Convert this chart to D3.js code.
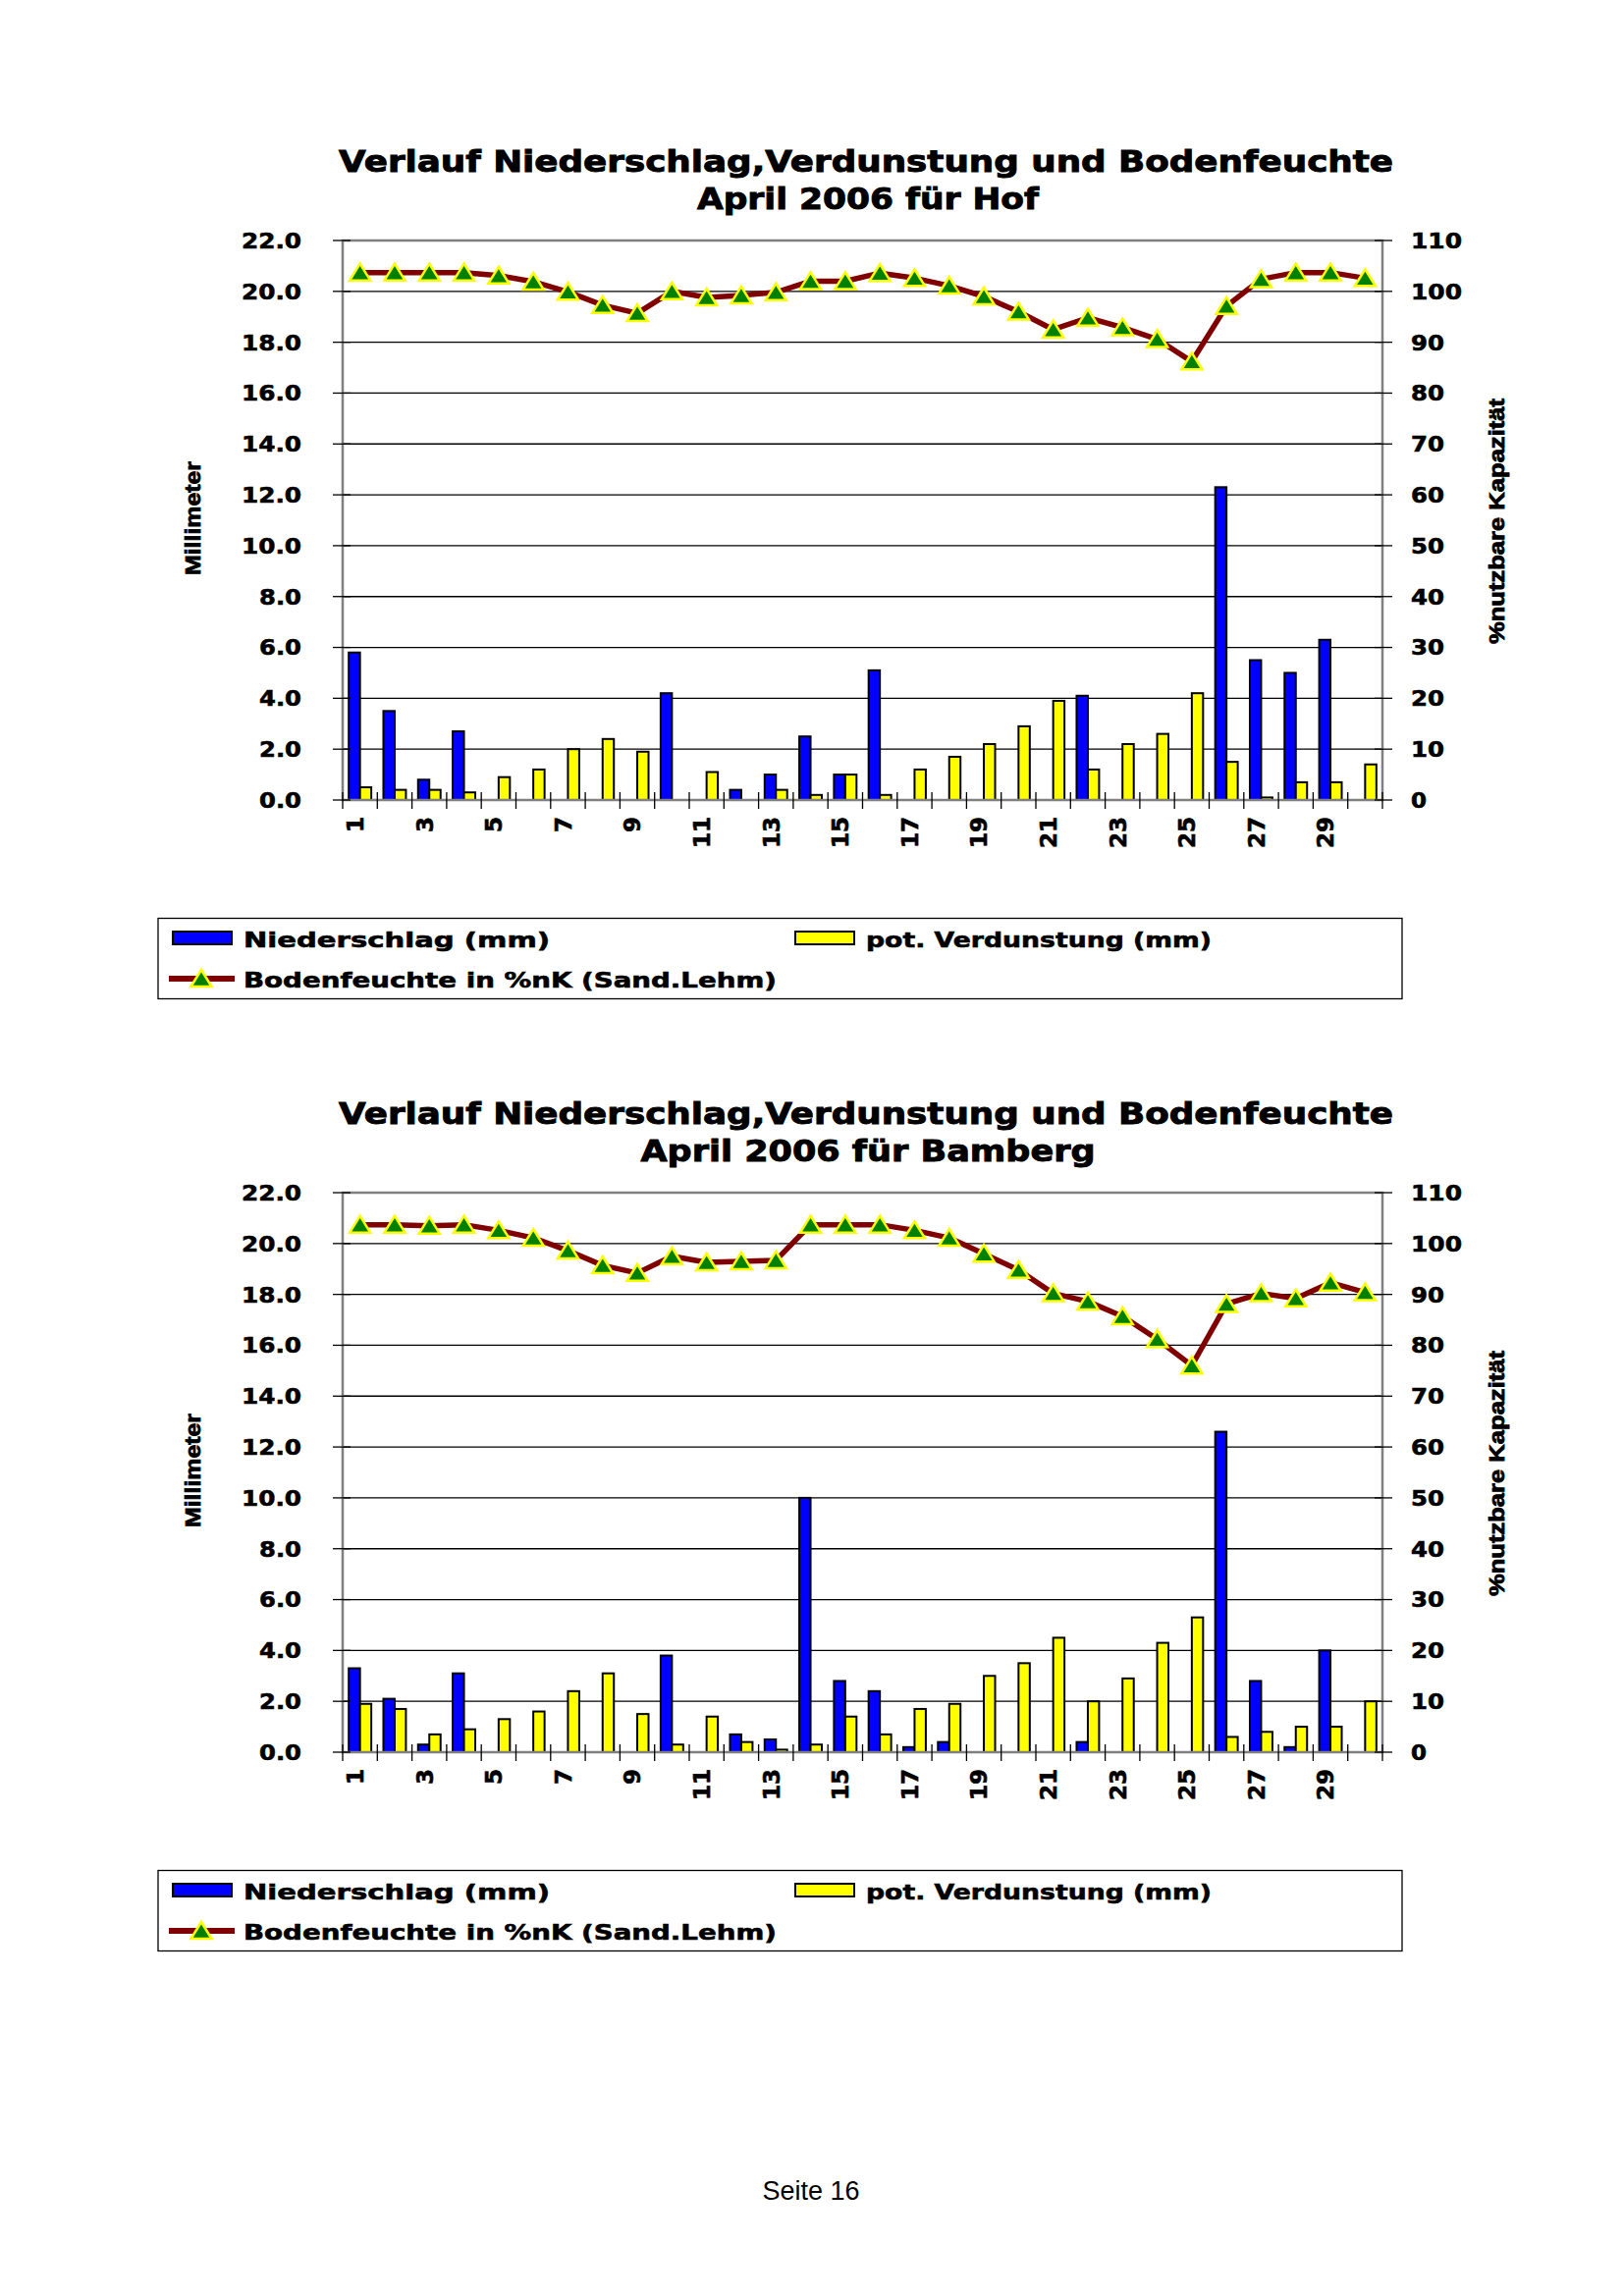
<!DOCTYPE html>
<html><head><meta charset="utf-8">
<script src="https://cdn.jsdelivr.net/npm/d3@7"></script>
<style>body{margin:0;background:#fff} svg{display:block}</style>
</head><body>
<script>
// ---------- DATA ----------
const days = d3.range(1, 31);
const xTickLabels = days.filter(d => d % 2 === 1);
const leftTicks = [0, 2, 4, 6, 8, 10, 12, 14, 16, 18, 20, 22];
const rightTicks = [0, 10, 20, 30, 40, 50, 60, 70, 80, 90, 100, 110];

const seriesNames = ["Niederschlag (mm)", "pot. Verdunstung (mm)", "Bodenfeuchte in %nK (Sand.Lehm)"];

const hofNiederschlag = [5.8,3.5,0.8,2.7,0,0,0,0,0,4.2,0,0.4,1.0,2.5,1.0,5.1,0,0,0,0,0,4.1,0,0,0,12.3,5.5,5.0,6.3,0];
const hofVerdunstung  = [0.5,0.4,0.4,0.3,0.9,1.2,2.0,2.4,1.9,0,1.1,0,0.4,0.2,1.0,0.2,1.2,1.7,2.2,2.9,3.9,1.2,2.2,2.6,4.2,1.5,0.1,0.7,0.7,1.4];
const hofBodenfeuchte = [103.7,103.7,103.7,103.7,103.1,101.9,99.9,97.3,95.7,100,98.8,99.2,99.8,102,102,103.6,102.6,101.1,99,96,92.5,94.8,92.9,90.6,86.2,97.1,102.4,103.7,103.7,102.6];

const bamNiederschlag = [3.3,2.1,0.3,3.1,0,0,0,0,0,3.8,0,0.7,0.5,10.0,2.8,2.4,0.2,0.4,0,0,0,0.4,0,0,0,12.6,2.8,0.2,4.0,0];
const bamVerdunstung  = [1.9,1.7,0.7,0.9,1.3,1.6,2.4,3.1,1.5,0.3,1.4,0.4,0.1,0.3,1.4,0.7,1.7,1.9,3.0,3.5,4.5,2.0,2.9,4.3,5.3,0.6,0.8,1.0,1.0,2.0];
const bamBodenfeuchte = [103.7,103.7,103.5,103.7,102.6,101.1,98.6,95.7,94.2,97.5,96.3,96.5,96.7,103.7,103.7,103.7,102.6,101.1,98,94.8,90.2,88.6,85.7,81.2,76,88.1,90.2,89.2,92.3,90.4];

const charts = [
  {title1: "Verlauf Niederschlag,Verdunstung und Bodenfeuchte", title2: "April 2006 für Hof", t2len: 348,
   nied: hofNiederschlag, verd: hofVerdunstung, boden: hofBodenfeuchte, dy: 0},
  {title1: "Verlauf Niederschlag,Verdunstung und Bodenfeuchte", title2: "April 2006 für Bamberg", t2len: 463,
   nied: bamNiederschlag, verd: bamVerdunstung, boden: bamBodenfeuchte, dy: 970}
];

// ---------- DRAW ----------
const W = 1653, H = 2339;
const svg = d3.select("body").append("svg").attr("width", W).attr("height", H);
svg.append("rect").attr("width", W).attr("height", H).attr("fill", "#fff");

const BOLD = "'DejaVu Sans', Verdana, sans-serif";
const NARROW = "'Liberation Sans', Arial, sans-serif";
const triPath = "M0,-9L10.5,8L-10.5,8Z";

function numLen(s) {
  let n = 0;
  for (const c of s) n += (c === "." ? 9 : 18);
  return n - 2;
}

function heavy(sel, w) {
  return sel.attr("stroke", "#000").attr("stroke-width", w).attr("paint-order", "stroke");
}

function drawChart(c) {
  const g = svg.append("g").attr("transform", `translate(0,${c.dy})`);
  const L = 349, R = 1408, T = 245, B = 815;

  const yL = d3.scaleLinear().domain([0, 22]).range([B, T]);
  const yR = d3.scaleLinear().domain([0, 110]).range([B, T]);
  const x0 = d3.scaleBand().domain(days).range([L, R]).paddingInner(0.35).paddingOuter(0.175);
  const x1 = d3.scaleBand().domain(["n", "v"]).range([0, x0.bandwidth()]);
  const xEdge = d3.scaleLinear().domain([0, 30]).range([L, R]);
  const xc = d => x0(d) + x0.bandwidth() / 2;

  // titles
  heavy(g.append("text").attr("x", 882).attr("y", 175).attr("text-anchor", "middle")
    .attr("font-family", BOLD).attr("font-weight", "bold").attr("font-size", 30)
    .attr("textLength", 1074).attr("lengthAdjust", "spacingAndGlyphs").text(c.title1), 0.9);
  heavy(g.append("text").attr("x", 884).attr("y", 213).attr("text-anchor", "middle")
    .attr("font-family", BOLD).attr("font-weight", "bold").attr("font-size", 30)
    .attr("textLength", c.t2len).attr("lengthAdjust", "spacingAndGlyphs").text(c.title2), 0.9);

  // gridlines
  g.append("g").selectAll("line").data(leftTicks.filter(v => v > 0 && v < 22)).join("line")
    .attr("x1", L).attr("x2", R).attr("y1", d => yL(d)).attr("y2", d => yL(d))
    .attr("stroke", "#000").attr("stroke-width", 1.3);

  // bars
  const barData = [];
  days.forEach((d, i) => {
    if (c.nied[i] > 0) barData.push({d, k: "n", v: c.nied[i]});
    if (c.verd[i] > 0) barData.push({d, k: "v", v: c.verd[i]});
  });
  g.append("g").selectAll("rect").data(barData).join("rect")
    .attr("x", b => x0(b.d) + x1(b.k))
    .attr("y", b => yL(b.v))
    .attr("width", x1.bandwidth())
    .attr("height", b => yL(0) - yL(b.v))
    .attr("fill", b => b.k === "n" ? "#0000ff" : "#ffff00")
    .attr("stroke", "#000").attr("stroke-width", 2);

  // plot border
  g.append("rect").attr("x", L).attr("y", T).attr("width", R - L).attr("height", B - T)
    .attr("fill", "none").attr("stroke", "#808080").attr("stroke-width", 2.5);

  // left axis
  const axL = g.append("g");
  axL.selectAll("line").data(leftTicks).join("line")
    .attr("x1", L - 10).attr("x2", L + 8).attr("y1", d => yL(d)).attr("y2", d => yL(d))
    .attr("stroke", "#000").attr("stroke-width", 1.3);
  heavy(axL.selectAll("text").data(leftTicks).join("text")
    .attr("x", 307).attr("y", d => yL(d)).attr("dy", "0.36em").attr("text-anchor", "end")
    .attr("font-family", BOLD).attr("font-weight", "bold").attr("font-size", 22)
    .attr("textLength", d => numLen(d.toFixed(1))).attr("lengthAdjust", "spacingAndGlyphs")
    .text(d => d.toFixed(1)), 0.6);

  // right axis
  const axR = g.append("g");
  axR.selectAll("line").data(rightTicks).join("line")
    .attr("x1", R - 8).attr("x2", R + 10).attr("y1", d => yR(d)).attr("y2", d => yR(d))
    .attr("stroke", "#000").attr("stroke-width", 1.3);
  heavy(axR.selectAll("text").data(rightTicks).join("text")
    .attr("x", 1437).attr("y", d => yR(d)).attr("dy", "0.36em").attr("text-anchor", "start")
    .attr("font-family", BOLD).attr("font-weight", "bold").attr("font-size", 22)
    .attr("textLength", d => numLen(String(d))).attr("lengthAdjust", "spacingAndGlyphs")
    .text(d => d), 0.6);

  // bottom axis ticks at category edges
  g.append("g").selectAll("line").data(d3.range(0, 31)).join("line")
    .attr("x1", d => xEdge(d)).attr("x2", d => xEdge(d)).attr("y1", B - 8).attr("y2", B + 9)
    .attr("stroke", "#000").attr("stroke-width", 1.3);
  heavy(g.append("g").selectAll("text").data(xTickLabels).join("text")
    .attr("transform", d => `translate(${xc(d) - 5},832) rotate(-90)`)
    .attr("text-anchor", "end").attr("dy", "0.36em")
    .attr("font-family", BOLD).attr("font-weight", "bold").attr("font-size", 23)
    .text(d => d), 0.6);

  // axis titles
  heavy(g.append("text").attr("transform", "translate(196,528) rotate(-90)")
    .attr("text-anchor", "middle").attr("dy", "0.36em")
    .attr("font-family", NARROW).attr("font-weight", "bold").attr("font-size", 22)
    .attr("textLength", 116).attr("lengthAdjust", "spacingAndGlyphs").text("Millimeter"), 0.8);
  heavy(g.append("text").attr("transform", "translate(1524,531) rotate(-90)")
    .attr("text-anchor", "middle").attr("dy", "0.36em")
    .attr("font-family", NARROW).attr("font-weight", "bold").attr("font-size", 22)
    .attr("textLength", 250).attr("lengthAdjust", "spacingAndGlyphs").text("%nutzbare Kapazität"), 0.8);

  // soil moisture line
  const line = d3.line().x(d => xc(d.d)).y(d => yR(d.v));
  const pts = days.map((d, i) => ({d, v: c.boden[i]}));
  g.append("path").datum(pts).attr("d", line).attr("fill", "none")
    .attr("stroke", "#800000").attr("stroke-width", 5.5).attr("stroke-linejoin", "round");
  g.append("g").selectAll("path").data(pts).join("path")
    .attr("transform", p => `translate(${xc(p.d)},${yR(p.v)})`)
    .attr("d", triPath).attr("fill", "#008000").attr("stroke", "#ffff00").attr("stroke-width", 2.5)
    .attr("stroke-linejoin", "miter");

  // legend
  const lg = g.append("g");
  lg.append("rect").attr("x", 161).attr("y", 935.5).attr("width", 1267).attr("height", 82)
    .attr("fill", "#fff").attr("stroke", "#000").attr("stroke-width", 1.3);
  lg.append("rect").attr("x", 176).attr("y", 949).attr("width", 60).attr("height", 13)
    .attr("fill", "#0000ff").attr("stroke", "#000").attr("stroke-width", 2);
  lg.append("rect").attr("x", 810).attr("y", 949).attr("width", 60).attr("height", 13)
    .attr("fill", "#ffff00").attr("stroke", "#000").attr("stroke-width", 2);
  lg.append("line").attr("x1", 172).attr("x2", 239).attr("y1", 997).attr("y2", 997)
    .attr("stroke", "#800000").attr("stroke-width", 6);
  lg.append("path").attr("transform", "translate(205,997)").attr("d", triPath)
    .attr("fill", "#008000").attr("stroke", "#ffff00").attr("stroke-width", 2.5);
  const legTxt = [
    {t: seriesNames[0], x: 248, y: 965, len: 312},
    {t: seriesNames[1], x: 882, y: 965, len: 352},
    {t: seriesNames[2], x: 248, y: 1006, len: 543}
  ];
  heavy(lg.selectAll("text").data(legTxt).join("text")
    .attr("x", d => d.x).attr("y", d => d.y)
    .attr("font-family", BOLD).attr("font-weight", "bold").attr("font-size", 22)
    .attr("textLength", d => d.len).attr("lengthAdjust", "spacingAndGlyphs")
    .text(d => d.t), 0.6);
}

charts.forEach(drawChart);

svg.append("text").attr("x", 826).attr("y", 2241).attr("text-anchor", "middle")
  .attr("font-family", NARROW).attr("font-size", 27).text("Seite 16");
</script>
</body></html>
